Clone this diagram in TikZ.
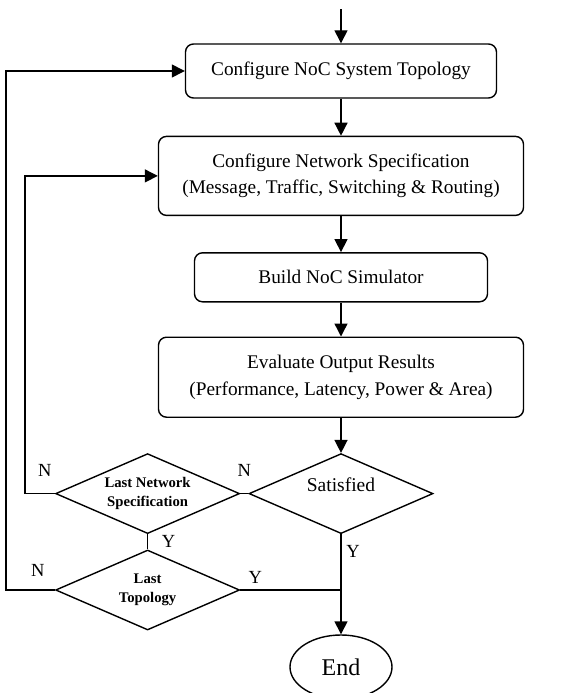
\documentclass[tikz,border=0pt]{standalone}
\usepackage{fontspec}
\setmainfont{Liberation Serif}
\usetikzlibrary{positioning, shapes.geometric, arrows.meta}
\tikzstyle{StepBox}=[rectangle, rounded corners=8pt, draw=black, line width=1.4pt, inner sep=0pt, align=center, font=\fontsize{19.3}{26.5}\selectfont]
\tikzstyle{Decision}=[diamond, aspect=2.3, draw=black, line width=1.4pt, inner sep=0pt, minimum width=184pt, minimum height=80pt, align=center, font=\bfseries\fontsize{14.7}{19}\selectfont]
\tikzstyle{Terminal}=[ellipse, draw=black, line width=1.4pt, inner sep=0pt, minimum width=102pt, minimum height=64pt, font=\fontsize{24}{28}\selectfont]
\tikzstyle{Answer}=[inner sep=0pt, font=\fontsize{18.5}{22}\selectfont]
\tikzstyle{FlowArrow}=[-{Triangle[length=13pt, width=13pt]}, line width=1.4pt]
\tikzstyle{FlowLine}=[line width=1.4pt]

\begin{document}
\begin{tikzpicture}
	\useasboundingbox (0,0) rectangle (560pt,-693pt);

	%Nodes
	\node[StepBox, minimum width=311pt, minimum height=54pt]	(config_topology)	at (341pt,-71pt)	{Configure NoC System Topology};
	\coordinate[above = 34pt of config_topology]	(start);
	\node[StepBox, minimum width=365pt, minimum height=79pt]	(config_network)	[below = 37pt of config_topology]	{Configure Network Specification\\(Message, Traffic, Switching \& Routing)};
	\node[StepBox, minimum width=293pt, minimum height=49pt]	(build_sim)	[below = 36pt of config_network]	{Build NoC Simulator};
	\node[StepBox, minimum width=365pt, minimum height=80pt]	(eval_results)	[below = 34pt of build_sim]	{Evaluate Output Results\\(Performance, Latency, Power \& Area)};

	\node[Decision, font=\fontsize{19.5}{23}\selectfont, text height=13pt, text depth=18pt]	(satisfied)	[below = 35pt of eval_results]	{Satisfied};
	\node[Decision]	(last_network)	[left = 8pt of satisfied]	{Last Network\\Specification};
	\node[Decision]	(last_topology)	[below = 15pt of last_network]	{Last\\Topology};
	\node[Terminal]	(finish)	[below = 100pt of satisfied]	{End};

	\node[Answer]	(n_network)	at ([shift={(-10pt,23pt)}]last_network.west)	{N};
	\node[Answer]	(n_satisfied)	at ([shift={(-4pt,23pt)}]satisfied.west)	{N};
	\node[Answer]	(y_network)	at ([shift={(21pt,-7pt)}]last_network.south)	{Y};
	\node[Answer]	(y_satisfied)	at ([shift={(12pt,-17pt)}]satisfied.south)	{Y};
	\node[Answer]	(n_topology)	at ([shift={(-17pt,20pt)}]last_topology.west)	{N};
	\node[Answer]	(y_topology)	at ([shift={(15pt,13pt)}]last_topology.east)	{Y};

	%Lines
	\draw[FlowArrow] (start) -- (config_topology.north);
	\draw[FlowArrow] (config_topology.south) -- (config_network.north);
	\draw[FlowArrow] (config_network.south) -- (build_sim.north);
	\draw[FlowArrow] (build_sim.south) -- (eval_results.north);
	\draw[FlowArrow] (eval_results.south) -- (satisfied.north);
	\draw[FlowArrow] (satisfied.south) -- (finish.north);

	\draw[FlowLine] (satisfied.west) -- (last_network.east);
	\draw[FlowLine] (last_network.south) -- (last_topology.north);
	\draw[FlowLine] (last_topology.east) -- (last_topology.east -| finish.north);

	\draw[FlowArrow] (last_network.west) -- ++(-30pt,0) |- (config_network.west);
	\draw[FlowArrow] (last_topology.west) -- ++(-49pt,0) |- (config_topology.west);

\end{tikzpicture}
\end{document}
